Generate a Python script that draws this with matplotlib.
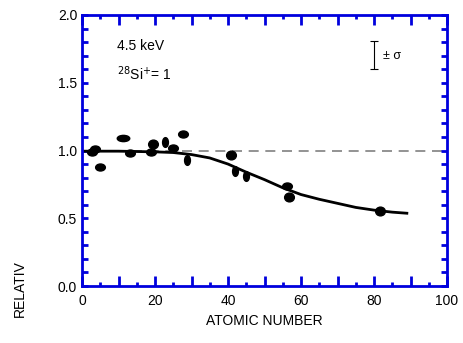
import numpy as np
import matplotlib
matplotlib.use("Agg")
import matplotlib.pyplot as plt
from matplotlib.path import Path
from matplotlib.transforms import Affine2D

plt.rcParams['font.family'] = ['Liberation Sans', 'DejaVu Sans']

# data points (atomic number, relative yield)
z_pts = [2.7, 3.6, 4.9, 11.2, 13.2, 18.9, 19.5, 22.7, 24.9, 27.7, 28.8,
         40.8, 41.9, 44.9, 56.2, 56.7, 81.6]
v_pts = [0.99, 1.01, 0.875, 1.095, 0.985, 0.99, 1.05, 1.066, 1.015, 1.12, 0.93,
         0.97, 0.85, 0.81, 0.735, 0.655, 0.55]
shape = ['w', 'w', 'w', 'W', 'w', 'w', 'r', 't', 'w', 'w', 't',
         'r', 't', 't', 'w', 'r', 'r']

# fitted curve
z_fit = [0, 10, 20, 25, 30, 35, 40, 45, 50, 55, 60, 65, 70, 75, 80, 85, 89]
v_fit = [0.995, 0.995, 0.99, 0.985, 0.97, 0.945, 0.90, 0.84, 0.785, 0.725,
         0.675, 0.64, 0.61, 0.58, 0.56, 0.545, 0.537]

x_ticks = [0, 10, 20, 30, 40, 50, 60, 70, 80, 90, 100]
x_ticklabels = ['0', '', '20', '', '40', '', '60', '', '80', '', '100']
y_ticks = [0.0, 0.5, 1.0, 1.5, 2.0]
y_ticklabels = ['0.0', '0.5', '1.0', '1.5', '2.0']

W, H = 463, 343
fig = plt.figure(figsize=(W/100, H/100), dpi=100)
ax = fig.add_axes([82/W, 1-286/H, (447-82)/W, (286-15)/H])

blue = '#0000dd'
ax.set_xlim(0, 100)
ax.set_ylim(0, 2.0)

ax.axhline(1.0, color='#808080', lw=1.2, dashes=(6, 4), zorder=1)
ax.plot(z_fit, v_fit, color='black', lw=2, zorder=2)

circ = Path.unit_circle()
mk = {
    'w': (circ.transformed(Affine2D().scale(1.0, 0.72)), 7),
    'W': (circ.transformed(Affine2D().scale(1.0, 0.5)), 9),
    't': (circ.transformed(Affine2D().scale(0.6, 1.0)), 7),
    'r': (circ.transformed(Affine2D().scale(1.0, 0.9)), 7),
}
for z, v, s in zip(z_pts, v_pts, shape):
    p, size = mk[s]
    ax.plot([z], [v], marker=p, ms=size, color='black', ls='none', zorder=3)

# error bar indicator
ax.errorbar([80], [1.705], yerr=[[0.105], [0.105]], color='black', lw=0.8,
            capsize=3, capthick=0.8, fmt='none')
ax.text(82.5, 1.70, '± σ', fontsize=9, va='center', ha='left')

ax.text(9.5, 1.77, '4.5 keV', fontsize=10, va='center', ha='left')
ax.text(9.5, 1.57, r'$^{28}$Si$^{+}$= 1', fontsize=10, va='center', ha='left')

for sp in ax.spines.values():
    sp.set_color(blue)
    sp.set_linewidth(2)

ax.set_xticks(x_ticks)
ax.set_xticklabels(x_ticklabels)
ax.set_xticks(np.arange(5, 100, 10), minor=True)
ax.set_yticks(y_ticks)
ax.set_yticklabels(y_ticklabels)
ax.set_yticks(np.arange(0, 2.01, 0.1), minor=True)
ax.tick_params(which='both', direction='in', color=blue, width=2,
               top=True, right=True, labelsize=10)
ax.tick_params(axis='x', which='major', length=7, pad=6)
ax.tick_params(axis='x', which='minor', length=3)
ax.tick_params(axis='y', which='both', length=4)

ax.set_xlabel('ATOMIC NUMBER', fontsize=10, labelpad=4)
fig.text(20/W, 1-317/H, 'RELATIV', rotation=90, fontsize=10, ha='center', va='bottom')

fig.savefig('out.png', dpi=100)
